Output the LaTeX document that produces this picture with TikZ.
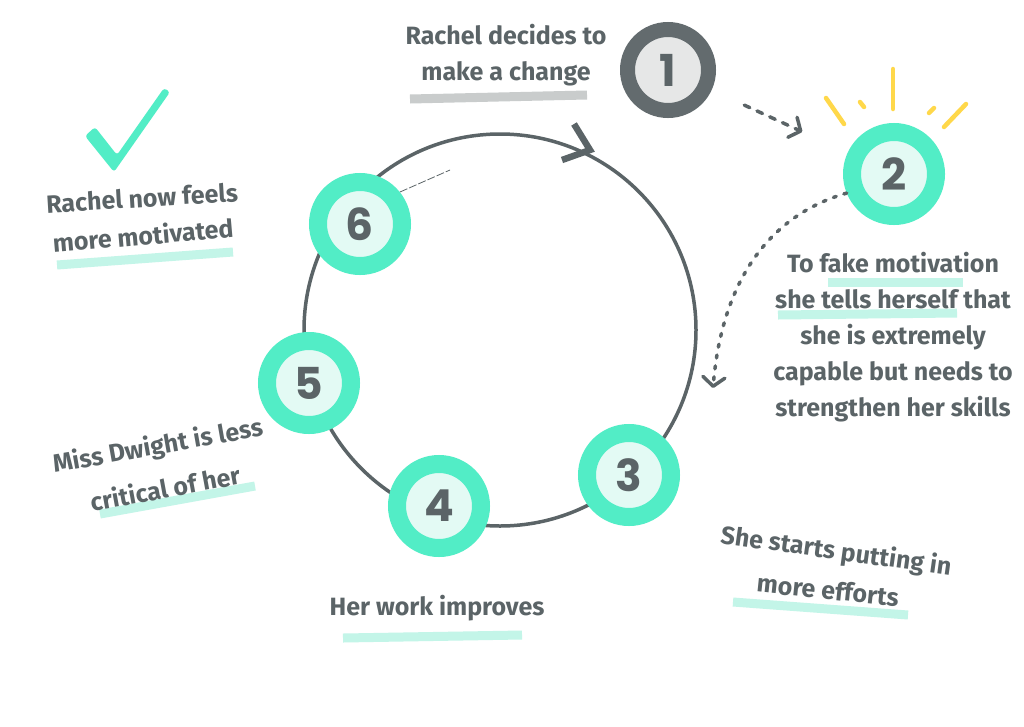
\documentclass[tikz,border=0pt]{standalone}
\usepackage{fontspec}
\setmainfont{Fira Sans}
\newfontfamily\numfont{Poppins}
\usetikzlibrary{arrows.meta}
\definecolor{ink}{HTML}{5B6467}
\definecolor{mint}{HTML}{52EDC6}
\definecolor{mintin}{HTML}{E3FAF4}
\definecolor{hl}{HTML}{C3F5E8}
\definecolor{graydark}{HTML}{636B6E}
\definecolor{grayin}{HTML}{E6E7E7}
\definecolor{grayhl}{HTML}{C9CCCC}
\definecolor{sun}{HTML}{FFD84A}
\begin{document}
\begin{tikzpicture}[x=1pt,y=-1pt,
  stepnode/.style={circle, draw=mint, line width=18pt, fill=mintin, minimum size=84pt,
    inner sep=0pt, text=ink, font=\numfont\bfseries\fontsize{44}{44}\selectfont},
  startnode/.style={stepnode, draw=graydark, fill=grayin, line width=15pt, minimum size=81pt},
  txt/.style={text=ink, font=\bfseries\fontsize{25}{36}\selectfont, align=center, inner sep=0pt},
  hlbar/.style={line width=9pt, draw=hl},
  loopline/.style={draw=ink, line width=3.5pt},
  dashlink/.style={draw=ink, line width=3.5pt, line cap=round, dash pattern=on 6pt off 8pt,
    -{Straight Barb[length=9pt,width=22pt,line width=3.5pt,round]}},
  ray/.style={draw=sun, line width=4.5pt, line cap=round}]
\useasboundingbox[fill=white] (0,0) rectangle (1024,726);

% highlight bars
\draw[line width=9pt, draw=grayhl] (410,99) -- (587,95);
\draw[hlbar] (57,265) -- (233,252);
\draw[hlbar] (828,282) -- (963,282);
\draw[hlbar] (778,315) -- (957,313);
\draw[hlbar] (100,514) -- (255,486);
\draw[hlbar] (343,638) -- (522,635);
\draw[hlbar] (733,602) -- (908,615);

% cycle
\draw[loopline] (500,330) circle[radius=196];
\draw[ink, line width=0.8pt, dash pattern=on 8pt off 2pt] (400,192) -- (450,170);
\draw[ink, line width=6.5pt, line join=miter] (574,124) -- (590,150) -- (562,160);

% check mark
\fill[mint, rounded corners=3pt] (85,136) -- (95,127) -- (117,155) -- (164,88) -- (170,92) -- (114,172) -- cycle;

% sun rays
\draw[ray] (826,98) -- (844,124);
\draw[ray] (860,102) -- (864,107);
\draw[ray] (893,69) -- (893,109);
\draw[ray] (934,108) -- (929,113);
\draw[ray] (966,104) -- (944,127);

% step nodes
\node[startnode] (n1) at (668,70) {1};
\node[stepnode] (n2) at (894,174) {2};
\node[stepnode] (n3) at (629,475) {3};
\node[stepnode] (n4) at (439,506) {4};
\node[stepnode] (n5) at (309,383) {5};
\node[stepnode] (n6) at (360,224) {6};

% dashed connectors
\draw[dashlink, shorten <=36pt, shorten >=50pt] (n1) -- (n2);
\coordinate (c3) at (713,388);
\draw[dashlink, dash pattern=on 3pt off 8pt] (n2.202) .. controls (770,215) and (722,280) .. (c3);

% labels
\node[txt] (t1) at (506,55) {Rachel decides to\\make a change};
\node[txt, rotate=3.5] (t6a) at (142,198) {Rachel now feels};
\node[txt, rotate=5] (t6b) at (143,235) {more motivated};
\node[txt] (t2) at (893,337) {To fake motivation\\she tells herself that\\she is extremely\\capable but needs to\\strengthen her skills};
\node[txt, rotate=10] (t5a) at (158,447) {Miss Dwight is less};
\node[txt, rotate=10.5] (t5b) at (165,488) {critical of her};
\node[txt] (t4) at (437,608) {Her work improves};
\node[txt, rotate=-8] (t3a) at (836,552) {She starts putting in};
\node[txt, rotate=-6] (t3b) at (828,590) {more efforts};
\end{tikzpicture}
\end{document}
